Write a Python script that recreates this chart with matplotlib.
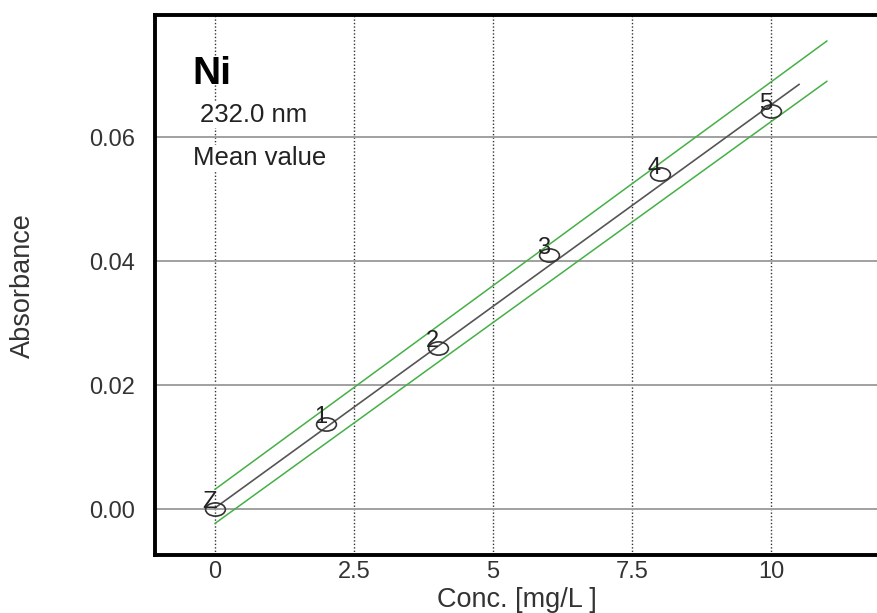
import matplotlib
matplotlib.use('Agg')
import matplotlib.pyplot as plt
from matplotlib.markers import MarkerStyle
from matplotlib.transforms import Affine2D

plt.rcParams['font.family'] = ['Liberation Sans', 'DejaVu Sans']

# calibration standards
conc = [0, 2, 4, 6, 8, 10]
absorb = [0.0000, 0.0137, 0.0260, 0.0410, 0.0540, 0.0642]
std_labels = ['Z', '1', '2', '3', '4', '5']

# fitted line and confidence band (end points)
fit_x = [0, 10.5]
fit_y = [0.0002, 0.0685]
band_x = [0, 11]
band_hi = [0.0032, 0.0755]
band_lo = [-0.0023, 0.0690]

xticks = [0, 2.5, 5, 7.5, 10]
xtick_labels = ['0', '2.5', '5', '7.5', '10']
yticks = [0.00, 0.02, 0.04, 0.06]
ytick_labels = ['0.00', '0.02', '0.04', '0.06']

fig = plt.figure(figsize=(8.78, 6.13), dpi=100)
ax = fig.add_axes([155 / 878, 58 / 613, 723 / 878, 540 / 613])
ax.set_xlim(-1.08, 11.92)
ax.set_ylim(-0.0074, 0.0797)

# grid
for x in xticks:
    ax.axvline(x, color='#333333', lw=1, ls=(0, (1, 1.5)), zorder=1)
for y in yticks:
    ax.axhline(y, color='#a0a0a0', lw=1.4, zorder=1)

ax.plot(band_x, band_hi, color='#45b045', lw=1.1, zorder=2)
ax.plot(band_x, band_lo, color='#45b045', lw=1.1, zorder=2)
ax.plot(fit_x, fit_y, color='#555555', lw=1.2, zorder=3)

ell = MarkerStyle('o', transform=Affine2D().scale(1.5, 1.0))
ax.plot(conc, absorb, ls='none', marker=ell, ms=9.5, mfc='none',
        mec='#333333', mew=1.2, zorder=4)
for x, y, lab in zip(conc, absorb, std_labels):
    ax.annotate(lab, (x, y), xytext=(-4, 0.5), textcoords='offset points',
                ha='center', va='baseline', fontsize=17, color='#222222', zorder=5)

ax.text(-0.4, 0.0702, 'Ni', fontsize=28, fontweight='bold', va='center', ha='left', zorder=6)
ax.text(-0.27, 0.0636, '232.0 nm', fontsize=18.5, va='center', ha='left', color='#222222',
        zorder=6, bbox=dict(facecolor='white', edgecolor='none', pad=1.0))
ax.text(-0.4, 0.0566, 'Mean value', fontsize=18.5, va='center', ha='left', color='#222222',
        zorder=6, bbox=dict(facecolor='white', edgecolor='none', pad=1.0))

ax.set_xticks(xticks)
ax.set_xticklabels(xtick_labels)
ax.set_yticks(yticks)
ax.set_yticklabels(ytick_labels)
ax.tick_params(axis='both', length=0, labelsize=17, labelcolor='#333333')
ax.tick_params(axis='x', pad=4)
ax.tick_params(axis='y', pad=14.5)

for side in ['left', 'top', 'bottom']:
    ax.spines[side].set_linewidth(2.8)
    ax.spines[side].set_color('black')
ax.spines['right'].set_visible(False)

ax.set_xlabel('Conc. [mg/L ]', fontsize=19.5, color='#333333', labelpad=3)
fig.text(23 / 878, 1 - 286 / 613, 'Absorbance', rotation=90, fontsize=19.5,
         color='#333333', ha='center', va='center')

fig.savefig('out.png', dpi=100)
